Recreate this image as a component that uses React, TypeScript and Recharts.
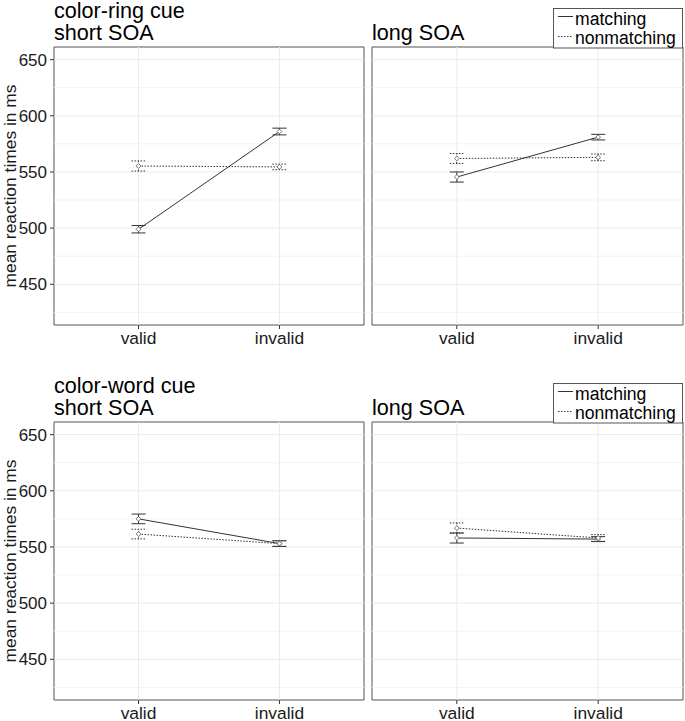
import React from 'react';
import { LineChart, Line, XAxis, YAxis, ErrorBar, ReferenceLine, ReferenceArea } from 'recharts';

const categories = ['valid', 'invalid'];
const seriesNames = ['matching', 'nonmatching'];
const yTicks = [450, 500, 550, 600, 650];
const majorGrid = [450, 500, 550, 600, 650];
const minorGrid = [425, 475, 525, 575, 625];
const yDomain: [number, number] = [413.75, 661.25];
const xDomain: [number, number] = [0.4, 2.6];

// color-ring cue, short SOA
const ringShortMatching = [499, 586];
const ringShortMatchingErr = [3.3, 3];
const ringShortNonmatching = [555.3, 554.5];
const ringShortNonmatchingErr = [4.5, 2.5];
// color-ring cue, long SOA
const ringLongMatching = [545.5, 581];
const ringLongMatchingErr = [4.5, 2.5];
const ringLongNonmatching = [562, 563];
const ringLongNonmatchingErr = [4.4, 3];
// color-word cue, short SOA
const wordShortMatching = [575, 553];
const wordShortMatchingErr = [4.3, 2.5];
const wordShortNonmatching = [561.5, 553];
const wordShortNonmatchingErr = [4.3, 2.5];
// color-word cue, long SOA
const wordLongMatching = [558, 557];
const wordLongMatchingErr = [4.5, 2.2];
const wordLongNonmatching = [566.8, 558];
const wordLongNonmatchingErr = [4.6, 3];

const FONT = '"Liberation Sans", Arial, sans-serif';
const INK = '#333333';
const seriesStyles = [
  { key: 'm', errKey: 'mErr', dash: undefined as string | undefined },
  { key: 'n', errKey: 'nErr', dash: '1.5 1.5' },
];

function buildRows(m: number[], mErr: number[], n: number[], nErr: number[]) {
  return categories.map((c, i) => ({ x: i + 1, cat: c, m: m[i], mErr: mErr[i], n: n[i], nErr: nErr[i] }));
}

const diamond = (props: any) => {
  const { cx, cy, index, dataKey } = props;
  const r = 2.4;
  return (
    <path
      key={`d-${dataKey}-${index}`}
      d={`M${cx},${cy - r}L${cx + r},${cy}L${cx},${cy + r}L${cx - r},${cy}Z`}
      fill="#ffffff"
      stroke="#555"
      strokeWidth={0.8}
    />
  );
};

type PanelProps = {
  left: number;
  top: number;
  width: number;
  height: number;
  margin: { top: number; right: number; bottom: number; left: number };
  xAxisHeight: number;
  showY: boolean;
  rows: any[];
};

function Panel({ left, top, width, height, margin, xAxisHeight, showY, rows }: PanelProps) {
  return (
    <div style={{ position: 'absolute', left, top, width, height }}>
      <LineChart width={width} height={height} data={rows} margin={margin}>
        <XAxis
          type="number"
          dataKey="x"
          domain={xDomain}
          ticks={[1, 2]}
          interval={0}
          allowDataOverflow
          tickFormatter={(v: number) => categories[v - 1]}
          tick={{ fontSize: 17.4, fill: '#1a1a1a', fontFamily: FONT }}
          tickSize={4}
          tickMargin={3}
          axisLine={false}
          tickLine={{ stroke: INK }}
          height={xAxisHeight}
        />
        <YAxis
          type="number"
          domain={yDomain}
          ticks={yTicks}
          interval={0}
          allowDataOverflow
          hide={!showY}
          width={54}
          tick={{ fontSize: 17, fill: '#1a1a1a', fontFamily: FONT }}
          tickSize={4}
          tickMargin={3}
          axisLine={false}
          tickLine={{ stroke: INK }}
        />
        {minorGrid.map((v) => (
          <ReferenceLine key={`mi${v}`} y={v} stroke="#f3f3f3" strokeWidth={1} />
        ))}
        {majorGrid.map((v) => (
          <ReferenceLine key={`ma${v}`} y={v} stroke="#ebebeb" strokeWidth={1} />
        ))}
        {[1, 2].map((v) => (
          <ReferenceLine key={`vx${v}`} x={v} stroke="#ebebeb" strokeWidth={1} />
        ))}
        {seriesStyles.map((s, i) => (
          <Line
            key={s.key}
            name={seriesNames[i]}
            dataKey={s.key}
            stroke={INK}
            strokeWidth={1}
            strokeDasharray={s.dash}
            dot={diamond}
            activeDot={false}
            isAnimationActive={false}
          >
            <ErrorBar dataKey={s.errKey} direction="y" width={7} stroke={INK} strokeWidth={1} strokeDasharray={s.dash} />
          </Line>
        ))}
        <ReferenceArea
          x1={xDomain[0]}
          x2={xDomain[1]}
          y1={yDomain[0]}
          y2={yDomain[1]}
          fill="none"
          fillOpacity={0}
          stroke="#555"
          strokeWidth={1}
          ifOverflow="visible"
        />
      </LineChart>
    </div>
  );
}

function LegendBox({ y }: { y: number }) {
  return (
    <g>
      <rect x={553.5} y={y + 0.5} width={129} height={39.5} fill="#ffffff" stroke="#555" strokeWidth={1} />
      {seriesNames.map((name, i) => (
        <g key={name}>
          <line
            x1={558}
            x2={573}
            y1={y + 8.5 + i * 20}
            y2={y + 8.5 + i * 20}
            stroke={INK}
            strokeWidth={1}
            strokeDasharray={seriesStyles[i].dash}
          />
          <text x={575} y={y + 16.5 + i * 19} fontSize={17.6} fontFamily={FONT} fill="#000">
            {name}
          </text>
        </g>
      ))}
    </g>
  );
}

const topRows = [
  buildRows(ringShortMatching, ringShortMatchingErr, ringShortNonmatching, ringShortNonmatchingErr),
  buildRows(ringLongMatching, ringLongMatchingErr, ringLongNonmatching, ringLongNonmatchingErr),
];
const bottomRows = [
  buildRows(wordShortMatching, wordShortMatchingErr, wordShortNonmatching, wordShortNonmatchingErr),
  buildRows(wordLongMatching, wordLongMatchingErr, wordLongNonmatching, wordLongNonmatchingErr),
];

export default function App() {
  const rowOffset = 375;
  return (
    <div
      style={{
        position: 'absolute',
        left: 0,
        top: 0,
        width: 685,
        height: 721,
        background: '#ffffff',
        overflow: 'hidden',
        fontFamily: FONT,
      }}
    >
      {[topRows, bottomRows].map((rowsPair, r) => (
        <React.Fragment key={r}>
          <Panel
            left={0}
            top={r * rowOffset}
            width={370}
            height={360}
            margin={{ top: 47, right: 6, bottom: 0, left: 0 }}
            xAxisHeight={35}
            showY
            rows={rowsPair[0]}
          />
          <Panel
            left={366}
            top={r * rowOffset}
            width={319}
            height={360}
            margin={{ top: 47, right: 2, bottom: 0, left: 6 }}
            xAxisHeight={35}
            showY={false}
            rows={rowsPair[1]}
          />
        </React.Fragment>
      ))}
      <svg
        width={685}
        height={721}
        style={{ position: 'absolute', left: 0, top: 0, pointerEvents: 'none' }}
      >
        <g fontFamily={FONT} fill="#000">
          <text x={54} y={17.5} fontSize={21.6}>color-ring cue</text>
          <text x={54} y={40.3} fontSize={21.6}>short SOA</text>
          <text x={372} y={39.8} fontSize={21.6}>long SOA</text>
          <text x={54} y={17.5 + rowOffset} fontSize={21.6}>color-word cue</text>
          <text x={54} y={40.3 + rowOffset} fontSize={21.6}>short SOA</text>
          <text x={372} y={39.8 + rowOffset} fontSize={21.6}>long SOA</text>
          {[0, 1].map((r) => (
            <text
              key={r}
              x={16}
              y={186 + r * rowOffset}
              fontSize={17.4}
              textAnchor="middle"
              transform={`rotate(-90 16 ${186 + r * rowOffset})`}
              fill="#1a1a1a"
            >
              mean reaction times in ms
            </text>
          ))}
        </g>
        <LegendBox y={8} />
        <LegendBox y={8 + rowOffset} />
      </svg>
    </div>
  );
}
